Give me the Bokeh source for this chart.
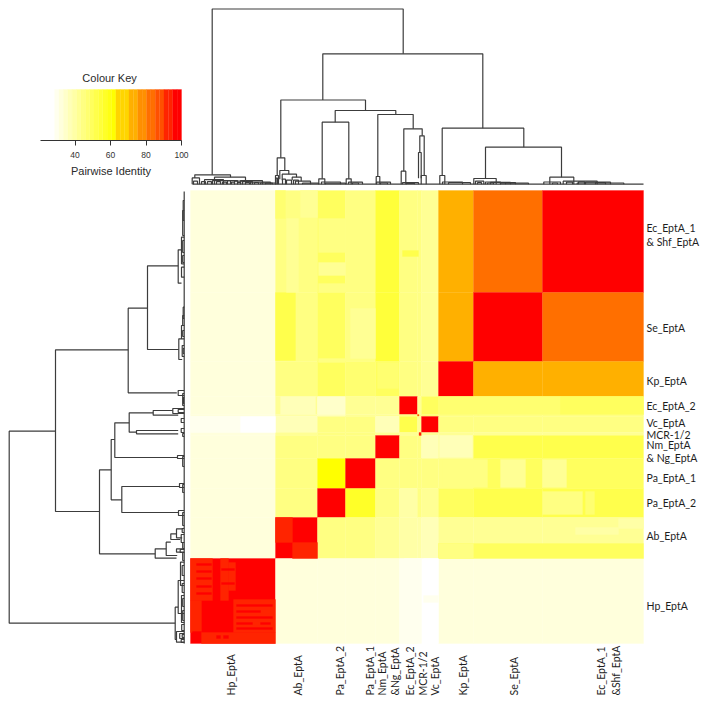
import numpy as np
from bokeh.embed import file_html
from bokeh.resources import INLINE
from bokeh.plotting import figure
from bokeh.models import ColumnDataSource, FixedTicker, LinearAxis, LinearColorMapper, Range1d
from bokeh.core.properties import value

# ---- data ----------------------------------------------------------------
col_names = ["Hp", "Ab", "Pa2", "Pa1", "Nm", "Ec2", "MCR", "Vc", "Kp", "Se", "Ec"]
col_sizes = [85, 42, 28, 30, 24, 18, 4, 17, 35, 69, 101]
row_names = ["Ec", "Se", "Kp", "Ec2", "MCRa", "Vc", "MCRb", "Nm", "Pa1", "Pa2", "Ab", "Hp"]
row_sizes = [102, 69, 35, 18, 2, 16, 3, 23, 30, 29, 41, 85]

ec_row   = [31, 45, 50, 44, 54, 44, 44, 43, 73, 83, 100]
se_row   = [31, 45, 50, 44, 54, 44, 44, 43, 73, 100, 83]
kp_row   = [31, 44, 50, 46, 50, 44, 44, 43, 100, 73, 73]
ec2_row  = [31, 41, 35, 42, 42, 100, 42, 50, 50, 47, 49]
mcra_row = [31, 40, 38, 42, 42, 44, 44, 46, 44, 44, 44]
vc_row   = [29, 36, 44, 44, 37, 52, 42, 100, 44, 44, 44]
mcrb_row = [31, 42, 44, 44, 42, 42, 42, 42, 42, 42, 42]
nm_row   = [31, 44, 44, 44, 100, 44, 44, 37, 41, 51, 51]
pa1_row  = [31, 44, 61, 100, 44, 44, 44, 44, 45, 49, 49]
pa2_row  = [31, 44, 100, 58, 44, 39, 44, 42, 50, 51, 51]
ab_row   = [31, 100, 44, 44, 42, 40, 40, 38, 42, 42, 42]
hp_row   = [100, 31, 31, 31, 31, 30, 28, 26, 31, 31, 31]
identity = [ec_row, se_row, kp_row, ec2_row, mcra_row, vc_row, mcrb_row,
            nm_row, pa1_row, pa2_row, ab_row, hp_row]

# sub-clusters that differ from their block: from, to (column), from, to (row), identity
sub_blocks = [
    (85, 102, 327, 352, 91), (102, 127, 352, 368, 91),
    (0, 22, 368, 410, 91), (6, 21, 373, 375, 100), (6, 21, 380, 382, 100), (6, 21, 387, 389, 100), (6, 21, 395, 397, 100),
    (6, 21, 402, 404, 100), (30, 38, 368, 410, 91), (38, 45, 372, 400, 91),
    (31, 44, 378, 380, 100), (31, 44, 392, 394, 100), (0, 11, 410, 442, 91), (43, 85, 409, 442, 91),
    (46, 82, 414, 416, 100), (46, 70, 420, 422, 100), (46, 82, 426, 428, 100), (46, 62, 432, 434, 100),
    (70, 80, 432, 434, 100), (46, 82, 437, 439, 100),
    (2, 11, 441, 451, 100), (11, 85, 442, 453, 91), (26, 30, 445, 448, 100), (33, 38, 445, 448, 100),
    (85, 105, 102, 170, 51), (85, 95, 0, 28, 47), (110, 127, 0, 27, 42), (96, 108, 28, 102, 42),
    (128, 155, 28, 62, 44), (128, 155, 72, 85, 41), (128, 155, 93, 102, 44),
    (160, 185, 118, 168, 42), (128, 155, 168, 172, 44), (187, 208, 172, 198, 47), (212, 228, 60, 66, 51),
    (249, 282, 245, 267, 38), (252, 297, 269, 297, 45), (310, 335, 269, 297, 43), (352, 376, 269, 297, 43),
    (352, 392, 301, 324, 45), (395, 404, 301, 324, 46), (248, 453, 353, 368, 50), (248, 283, 353, 368, 44),
    (428, 453, 328, 338, 39), (385, 428, 337, 344, 39), (248, 370, 206, 224, 47), (370, 453, 206, 224, 50),
    (0, 50, 226, 242, 29), (50, 85, 226, 242, 26), (233, 248, 368, 453, 26), (233, 248, 405, 412, 29),
    (214, 231, 368, 453, 29), (90, 125, 206, 224, 38), (90, 120, 370, 372, 31),
    (228.5, 230.7, 242, 245, 95), (227, 228.5, 224, 225.5, 90),
]

key_low, key_high, key_axis_low = 26, 100, 20.5
key_ticks = [40, 60, 80, 100]
hot_colours = ["#FFD500", "#FFD500", "#FFD500", "#FFB000", "#FFB000", "#FF9000", "#FF9000",
               "#FF6F00", "#FF6F00", "#FF5000", "#FF5000", "#FF2400", "#FF2400", "#FF0000", "#FF0000"]
pale_blue = [255, 238, 220, 202, 184, 166, 148, 130, 112, 94, 76, 58, 40, 20, 0]

top_main = [
    (21.7, 212.7, 175.2, 9.4, 130.4), (132.3, 292.3, 130.4, 84.2, 56),
    (90.3, 175, 84.2, 26.4, 73.7), (144.7, 205.3, 73.7, 62, 69.7), (131.7, 158.3, 62, 5.4, 5.4),
    (187.3, 222.7, 69.7, 7.7, 55.4), (213.3, 231.7, 55.4, 13, 48.4), (229.3, 233.7, 48.4, 31.7, 8.7),
    (228, 230.7, 31.7, 6, 6), (251.7, 333.3, 56, 8.7, 37), (295, 371, 37, 5.7, 7),
    (86.7, 94.3, 26.4, 8.7, 13.7), (89.3, 98.3, 13.7, 5, 10), (91.7, 106, 10, 4, 7),
    (101.7, 110.7, 7, 4, 3), (4.3, 40, 9.4, 6.3, 7),
]
top_twigs = [
    (1.7, 9, 6.3), (24, 55, 7), (14, 33, 4.5), (22, 40, 3.5), (37, 47, 3.5), (50, 72, 3.5), (52, 62, 2.5),
    (60, 80, 2), (70, 85, 1.2), (44, 52, 3), (3, 7, 3), (11, 15, 2.5), (17, 21, 2.5), (26, 30, 2.5),
    (32, 36, 2), (41, 44, 2), (47, 50, 1.5), (55, 59, 1.5), (64, 68, 1.5), (75, 82, 1),
    (85, 88, 8.7), (85.5, 87, 6), (92, 95, 5), (96, 101, 4), (103, 108, 4), (105, 120, 3), (112, 128, 1),
    (128.3, 134.3, 5.4), (131, 150, 2.2), (135, 155, 1), (155.7, 160.7, 5.4), (158, 172, 2), (162, 168, 1.2),
    (185.7, 189.3, 7.7), (186, 200, 2), (190, 197, 1.2), (210.7, 215.3, 13), (212, 228, 1.5), (216, 224, 0.8),
    (230.7, 235.7, 8.7), (249.3, 254.3, 8.7), (252, 272, 2.2), (258, 280, 1.5),
    (283.3, 305.7, 5.7), (285, 293.3, 3), (295, 310, 2.2), (310, 338, 1), (300, 320, 1.8), (287, 291, 1.5),
    (297, 303, 1.2), (315, 325, 1.5), (359.3, 383.3, 7), (353.3, 370, 2.2), (372.7, 406.7, 3),
    (386.7, 433.3, 1.2), (395, 420, 2), (362, 367, 1.2), (376, 382, 2), (388, 394, 2.4), (405, 415, 1.5),
]

left_main = [
    (240.7, 432.7, 175, 128.7, 9), (159.3, 321, 128.7, 56, 84.7), (117.7, 202.3, 56, 36.7, 7.4),
    (75.3, 159, 36.7, 6, 5.4), (279.3, 363.3, 84.7, 73, 29), (249, 309.3, 73, 69.4, 62.4),
    (232.3, 267, 69.4, 55, 6.7), (222.3, 241.7, 55, 31, 47.7), (220, 224.7, 31, 11.4, 6),
    (240, 243.3, 47.7, 6, 6), (296, 322, 62.4, 4.7, 5.7), (358.3, 367.7, 29, 18, 7.7),
    (351.7, 365, 18, 13.4, 7), (343.3, 349, 13.4, 7.7, 4), (338.3, 347.3, 7.7, 2, 2),
    (59.3, 92.7, 6, 2.7, 2.7), (148.3, 169, 5.4, 2.7, 2), (416.7, 449, 9, 6, 7.7),
]
left_twigs = [
    (46.7, 73.3, 2.7), (76.7, 86.7, 2.7), (10, 30, 1), (20, 45, 1.5), (50, 62, 1.5), (65, 72, 1.5),
    (135, 148.3, 2.7), (155, 166, 2), (116.7, 128, 1), (125, 135, 1.5), (140, 146, 1.5), (158, 163, 1),
    (200, 205, 6), (203, 215, 1.5), (207, 213, 0.8), (218, 223, 11.4), (219, 222, 6), (228, 232, 3), (238, 242, 3),
    (243, 246, 1.5), (265, 268, 6.7), (266, 276, 1.5), (293, 297, 4.7), (294, 302, 1.5), (320, 325, 5.7),
    (322, 335, 1.5), (338, 342, 2), (344, 352, 3), (358.3, 361.7, 7.7), (359, 362, 4), (352, 358, 1.5),
    (362, 370, 1.5), (390, 423, 6), (371.7, 395, 3.7), (405, 432, 2.7), (441, 451.7, 7.7), (375, 385, 2),
    (393, 402, 2), (408, 416, 1.5), (420, 430, 1.5), (434, 440, 2.5), (443, 448, 4.5), (444, 447, 2),
    (449, 452, 3),
]

right_labels = ["Ec_EptA_1", "& Shf_EptA", "Se_EptA", "Kp_EptA", "Ec_EptA_2", "Vc_EptA", "MCR-1/2",
                "Nm_EptA", "& Ng_EptA", "Pa_EptA_1", "Pa_EptA_2", "Ab_EptA", "Hp_EptA"]
right_label_pos = [37, 51.7, 137.3, 190.3, 215, 232.3, 244, 254, 267.7, 287.3, 312.3, 345.3, 415]
bottom_labels = ["Hp_EptA", "Ab_EptA", "Pa_EptA_2", "Pa_EptA_1", "Nm_EptA", "&Ng_EptA", "Ec_EptA_2",
                 "MCR-1/2", "Vc_EptA", "Kp_EptA", "Se_EptA", "Ec_EptA_1", "&Shf_EptA"]
bottom_label_pos = [40, 107.7, 149, 179, 191.7, 204.3, 219.7, 232.3, 244.3, 272.3, 323.3, 410.7, 425]

# ---- styles / layout (page pixels of each panel) --------------------------
FONT = "Lato"
KEYFONT = "Liberation Sans"
LINE = "#3c3c3c"
SIZE = 700
PAGE0 = 0            # where the figure's frame begins in the picture
HX0, HY0 = 190, 190  # top-left of heat map on the page
BASE = 183.7         # page position of the dendrograms' zero height
KX0, KX1, KY0, KY1 = 40, 181, 89, 140   # colour key box (axis extent)

palette = [f"#FFFF{b:02X}" for b in pale_blue] + hot_colours
mapper = LinearColorMapper(palette=palette, low=key_low, high=key_high)

N_COL, N_ROW = int(sum(col_sizes)), int(sum(row_sizes))


def edges(sizes):
    return np.concatenate([[0], np.cumsum(sizes)])


def span(px0, px1, v0, v1):
    """A range over the whole frame such that page pixel px0 shows v0 and px1 shows v1."""
    per = (v1 - v0) / (px1 - px0)
    return Range1d(v0 + (PAGE0 - px0) * per, v0 + (PAGE0 + SIZE - px0) * per)


def span_y(px0, px1, v0, v1):
    """Same for y: Range1d start is at the frame's bottom."""
    per = (v1 - v0) / (px1 - px0)
    return Range1d(v0 + (PAGE0 + SIZE - px0) * per, v0 + (PAGE0 - px0) * per)


p = figure(width=SIZE, height=SIZE,
           x_range=span(HX0, HX0 + N_COL, 0, N_COL), y_range=span_y(HY0, HY0 + N_ROW, 0, N_ROW),
           min_border_left=0, min_border_right=0, min_border_top=0, min_border_bottom=0,
           output_backend="svg", toolbar_location=None)
p.xaxis.visible = False
p.yaxis.visible = False
p.grid.visible = False
p.outline_line_color = None
p.extra_y_ranges = {"top_h": span_y(BASE, BASE - 100, 0, 100), "key_y": span_y(KY1, KY0, 0, 1)}
p.extra_x_ranges = {"left_h": span(BASE, BASE - 100, 0, 100), "key_x": span(KX0, KX1, key_axis_low, key_high)}

# ---- heat map ------------------------------------------------------------
xe, ye = edges(col_sizes), edges(row_sizes)
c_l, c_r, c_t, c_b, c_v = [], [], [], [], []
for i, rv in enumerate(identity):
    for j, v in enumerate(rv):
        c_l.append(xe[j]); c_r.append(xe[j + 1]); c_t.append(ye[i]); c_b.append(ye[i + 1]); c_v.append(v)
for (a, b, c, d, v) in sub_blocks:
    c_l.append(a); c_r.append(b); c_t.append(c); c_b.append(d); c_v.append(v)
heat_colour = {"field": "v", "transform": mapper}
p.quad(left="l", right="r", top="t", bottom="b",
       source=ColumnDataSource(dict(l=c_l, r=c_r, t=c_t, b=c_b, v=c_v)),
       fill_color=heat_colour, line_color=heat_colour, line_width=0.3)

p.text(x=[N_COL + 3] * len(right_labels), y=right_label_pos, text=right_labels,
       text_font=value(FONT), text_font_size="10.5px", text_color="#1e1e1e",
       text_baseline="middle", text_align="left")
p.text(x=bottom_label_pos, y=[N_ROW + 52] * len(bottom_labels), text=bottom_labels,
       text_font=value(FONT), text_font_size="10.5px", text_color="#1e1e1e",
       text_baseline="middle", text_align="left", angle=np.pi / 2)


# ---- dendrograms ---------------------------------------------------------
def links(main, twigs):
    pos, hei = [], []
    for (l, r, h, lh, rh) in main:
        pos.append([l, l, r, r]); hei.append([lh, h, h, rh])
    for (l, r, h) in twigs:
        pos.append([l, l, r, r]); hei.append([0, h, h, 0])
    return pos, hei


tp, th = links(top_main, top_twigs)
p.multi_line(tp, th, y_range_name="top_h", line_color=LINE, line_width=1.2)
p.segment(x0=[2], y0=[0], x1=[N_COL], y1=[0], y_range_name="top_h", line_color=LINE, line_width=1.2)

lp, lh_ = links(left_main, left_twigs)
p.multi_line(lh_, lp, x_range_name="left_h", line_color=LINE, line_width=1.2)
p.segment(x0=[0], y0=[1], x1=[0], y1=[N_ROW], x_range_name="left_h", line_color=LINE, line_width=1.2)

# ---- colour key ----------------------------------------------------------
bins = np.linspace(key_low, key_high, len(palette) + 1)
p.quad(left=bins[:-1], right=bins[1:], top=1, bottom=0, fill_color=palette, line_color=palette, line_width=0.3,
       x_range_name="key_x", y_range_name="key_y")
ax = LinearAxis(x_range_name="key_x", fixed_location=KY1 - HY0, bounds=(key_axis_low, key_high))
ax.ticker = FixedTicker(ticks=key_ticks)
ax.minor_tick_line_color = None
ax.major_tick_in = 0
ax.major_tick_out = 5
ax.axis_line_color = "#333333"
ax.major_tick_line_color = "#333333"
ax.major_label_text_font = KEYFONT
ax.major_label_text_font_size = "8.5px"
ax.major_label_text_color = "#333333"
ax.major_label_standoff = 6
p.add_layout(ax, "below")

key_mid = (key_axis_low + key_high) / 2
p.text(x=[key_mid - 0.8], y=[1.22], text=["Colour Key"], x_range_name="key_x", y_range_name="key_y",
       text_font=value(KEYFONT), text_font_size="11px", text_color="#2a2a2a",
       text_align="center", text_baseline="middle")
p.text(x=[key_mid], y=[-0.59], text=["Pairwise Identity"], x_range_name="key_x", y_range_name="key_y",
       text_font=value(KEYFONT), text_font_size="11px", text_color="#2a2a2a",
       text_align="center", text_baseline="middle")

open("out.html", "w").write(file_html(p, INLINE))
